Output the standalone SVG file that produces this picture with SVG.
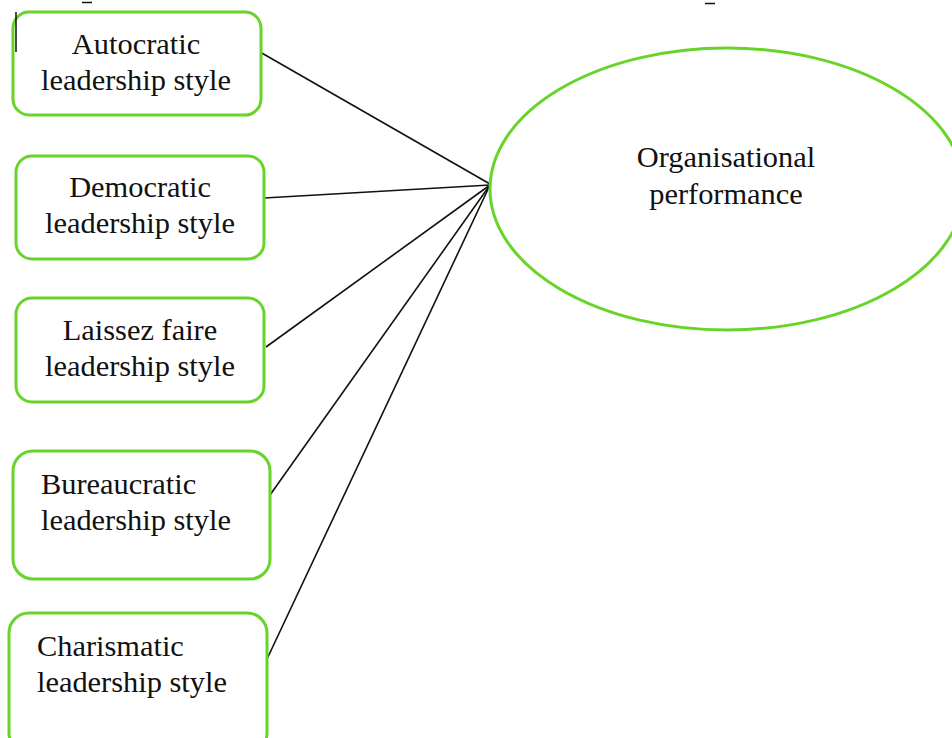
<svg xmlns="http://www.w3.org/2000/svg" width="952" height="738" viewBox="0 0 952 738">
  <style>
    .box { fill: #ffffff; stroke: #68d42a; stroke-width: 3; }
    .lbl { font-family: "Liberation Serif", "Times New Roman", serif; font-size: 30.4px; fill: #111111; }
    .mid { text-anchor: middle; }
    .link { stroke: #111111; stroke-width: 1.6; fill: none; }
    .tick { stroke: #111111; stroke-width: 1.5; }
  </style>
  <rect width="952" height="738" fill="#ffffff"/>

  <!-- stray marks along the top -->
  <line class="tick" x1="82" y1="2.5" x2="92" y2="2.5"/>
  <line class="tick" x1="705" y1="3.5" x2="715" y2="3.5"/>

  <g id="connectors">
    <line class="link" x1="260" y1="52" x2="490" y2="184"/>
    <line class="link" x1="264" y1="198" x2="490" y2="185"/>
    <line class="link" x1="266" y1="347" x2="490" y2="185"/>
    <line class="link" x1="270" y1="495" x2="490" y2="185"/>
    <line class="link" x1="267" y1="659" x2="490" y2="185"/>
  </g>

  <g id="autocratic">
    <rect class="box" x="13" y="12" width="248" height="103" rx="16"/>
    <line class="tick" x1="16" y1="12" x2="16" y2="52"/>
    <text class="lbl mid" x="136" y="54">Autocratic</text>
    <text class="lbl mid" x="136" y="90">leadership style</text>
  </g>

  <g id="democratic">
    <rect class="box" x="16" y="156" width="248" height="103" rx="16"/>
    <text class="lbl mid" x="140" y="197">Democratic</text>
    <text class="lbl mid" x="140" y="233">leadership style</text>
  </g>

  <g id="laissez-faire">
    <rect class="box" x="16" y="298" width="248" height="104" rx="16"/>
    <text class="lbl mid" x="140" y="340">Laissez faire</text>
    <text class="lbl mid" x="140" y="376">leadership style</text>
  </g>

  <g id="bureaucratic">
    <rect class="box" x="13" y="451" width="257" height="128" rx="20"/>
    <text class="lbl" x="41" y="494">Bureaucratic</text>
    <text class="lbl" x="41" y="530">leadership style</text>
  </g>

  <g id="charismatic">
    <rect class="box" x="9" y="613" width="258" height="140" rx="20"/>
    <text class="lbl" x="37" y="656">Charismatic</text>
    <text class="lbl" x="37" y="692">leadership style</text>
  </g>

  <g id="performance">
    <ellipse class="box" cx="727" cy="189" rx="237" ry="141"/>
    <text class="lbl mid" x="726" y="167">Organisational</text>
    <text class="lbl mid" x="726" y="204">performance</text>
  </g>
</svg>
